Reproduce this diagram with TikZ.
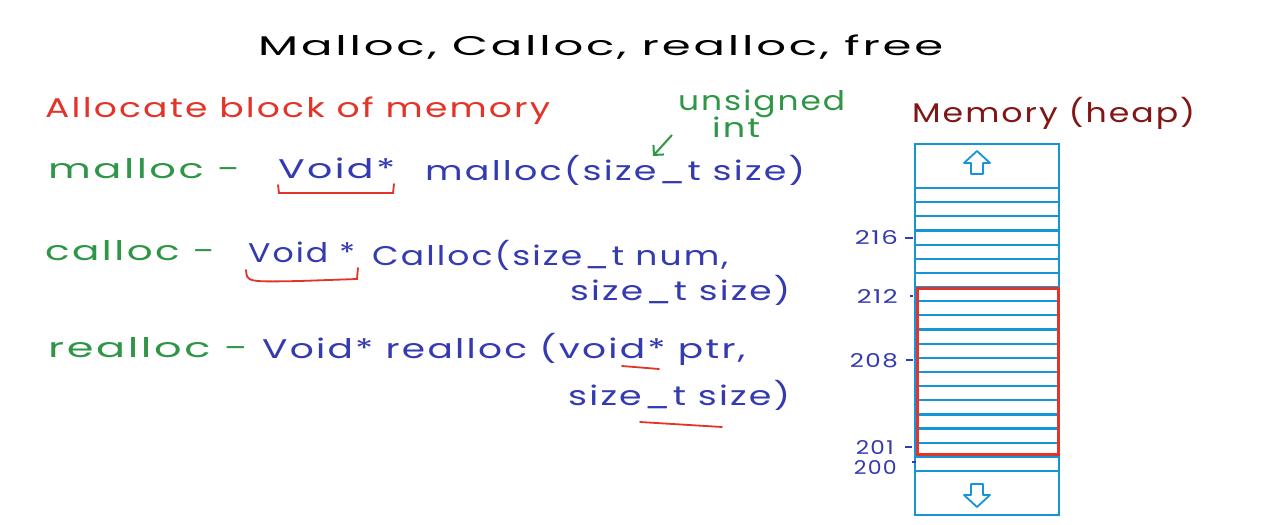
\documentclass[tikz,border=0pt]{standalone}
\usepackage{graphicx}
\usepackage{fontspec}
\newfontfamily\hand[LetterSpace=6]{Poppins}
\usetikzlibrary{arrows.meta}

\definecolor{inkred}{RGB}{226,52,40}
\definecolor{inkgreen}{RGB}{46,150,70}
\definecolor{inkblue}{RGB}{52,58,176}
\definecolor{heapblue}{RGB}{22,148,216}
\definecolor{heapred}{RGB}{130,22,22}

% stretch a handwritten line to the width it takes on the board
\newcommand{\fitw}[2]{\resizebox{#1pt}{\height}{#2}}

\begin{document}
\begin{tikzpicture}[x=1pt, y=-1pt,
	every node/.style={font=\hand\fontsize{27}{30}\selectfont, inner sep=0pt, anchor=base west},
	memline/.style={heapblue, line width=2.2pt},
	redmark/.style={inkred, line width=1.8pt, line cap=round},
	addrtick/.style={inkblue, line width=1.4pt},
	addr/.style={inkblue, font=\hand\fontsize{19}{22}\selectfont, anchor=base east}]
	\useasboundingbox (0,0) rectangle (1270,525);
	% heading
	\node (title) at (258,55) {\fitw{685}{Malloc, Calloc, realloc, free}};
	\node[inkred] (alloc) at (45,117) {\fitw{505}{Allocate block of memory}};
	\node[inkgreen] (unsigned) at (678,110) {\fitw{167}{unsigned}};
	\node[inkgreen] (int) at (712,137) {\fitw{48}{int}};
	% malloc
	\node[inkgreen] (mallocname) at (48,178) {\fitw{192}{malloc -}};
	\node[inkblue] (mallocvoid) at (278,178) {\fitw{117}{Void*}};
	\node[inkblue] (mallocsig) at (425,180) {\fitw{380}{malloc(size\_t size)}};
	% calloc
	\node[inkgreen] (callocname) at (45,260) {\fitw{170}{calloc -}};
	\node[inkblue] (callocvoid) at (248,262) {\fitw{107}{Void *}};
	\node[inkblue] (callocsig) at (372,265) {\fitw{356}{Calloc(size\_t num,}};
	\node[inkblue] (callocsize) at (570,300) {\fitw{220}{size\_t size)}};
	% realloc
	\node[inkgreen] (reallocname) at (48,357) {\fitw{200}{realloc -}};
	\node[inkblue] (reallocsig) at (262,358) {\fitw{483}{Void* realloc (void* ptr,}};
	\node[inkblue] (reallocsize) at (568,405) {\fitw{222}{size\_t size)}};
	% marks
	\coordinate (sizet) at (653,156);
	\draw[inkgreen, line width=2pt, -{Straight Barb[length=2.5mm]}] ([xshift=-40pt,yshift=2pt]int.base west) -- (sizet);
	\draw[redmark] (278,185) -- (279,193) -- (393,193) -- (394,184);
	\draw[redmark] (246,270) .. controls (247,282) .. (300,281) -- (357,279) -- (358,268);
	\draw[redmark] (622,366) -- (659,369);
	\draw[redmark] (640,422) -- (722,427);
	% memory (heap)
	\node[heapred] (heap) at (912,122) {\fitw{283}{Memory (heap)}};
	\draw[memline] (915,144) rectangle (1059,515);
	\foreach \k in {0,...,20} {
		\draw[memline] (915,188+14.15*\k) -- (1059,188+14.15*\k);
	}
	\draw[heapblue, line width=1.8pt, line join=round] (977,151) -- (990,163) -- (983,163) -- (983,174) -- (971,174) -- (971,163) -- (964,163) -- cycle;
	\draw[heapblue, line width=1.8pt, line join=round] (977,507) -- (990,495) -- (983,495) -- (983,484) -- (971,484) -- (971,495) -- (964,495) -- cycle;
	\draw[inkred, line width=3pt] (917,288) rectangle (1058,454);
	% addresses
	\node[addr] (a216) at (898,244) {\fitw{43}{216}};
	\node[addr] (a212) at (898,303) {\fitw{41}{212}};
	\node[addr] (a208) at (898,367) {\fitw{48}{208}};
	\node[addr] (a201) at (894,454) {\fitw{38}{201}};
	\node[addr] (a200) at (897,474) {\fitw{43}{200}};
	\draw[addrtick] (905,238) -- (913,238);
	\draw[addrtick] (910,296) -- (913,296);
	\draw[addrtick] (906,360) -- (913,360);
	\draw[addrtick] (905,447) -- (912,447);
	\draw[addrtick] (912,462) -- (916,462);
\end{tikzpicture}
\end{document}
